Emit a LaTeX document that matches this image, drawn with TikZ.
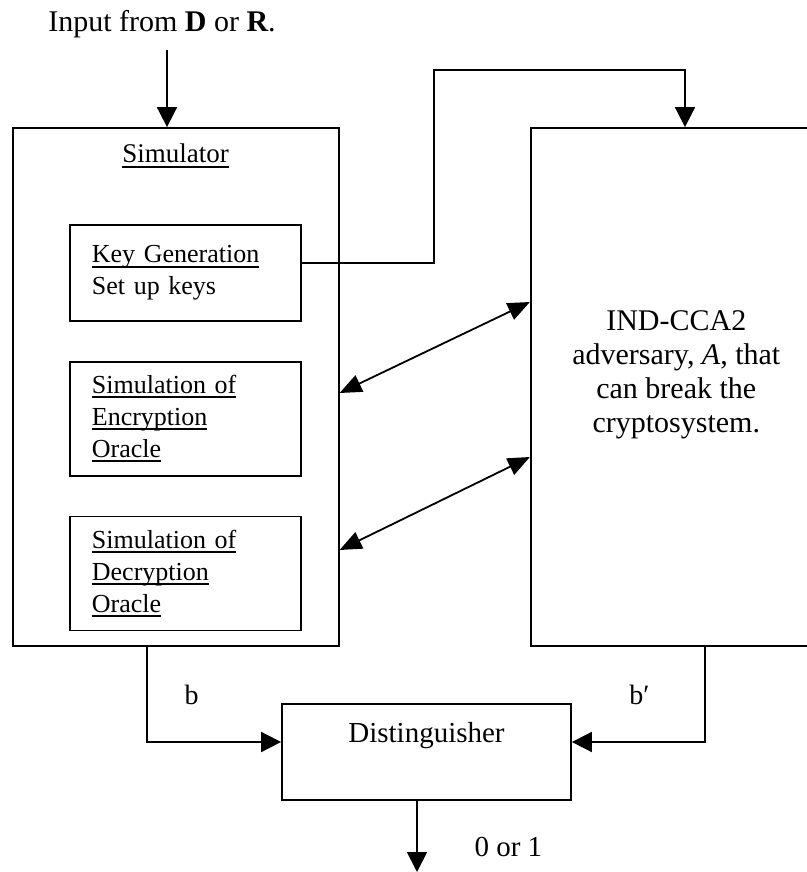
\documentclass[tikz,border=0pt]{standalone}
\usepackage{fontspec}
\setmainfont{Liberation Serif}
\usetikzlibrary{arrows.meta, positioning}

\newcommand{\utext}[1]{\leavevmode\setbox0=\hbox{#1}\rlap{\rule[-2.4pt]{\wd0}{0.9pt}}\box0}

\begin{document}
\begin{tikzpicture}[
    x=0.5pt, y=-0.5pt,
    node distance=19.5pt and 20pt,
    box/.style={
        rectangle, draw=black, line width=0.9pt, inner sep=0pt
    },
    sub/.style={
        rectangle, draw=black, line width=0.9pt,
        minimum width=115.5pt, text width=93.5pt, inner xsep=11pt,
        align=left, font=\fontsize{13}{16}\selectfont
    },
    arr/.style={-{Triangle[length=10pt, width=10pt]}, line width=0.9pt},
    biarr/.style={{Triangle[length=11pt, width=9pt]}-{Triangle[length=11pt, width=9pt]}, line width=0.9pt}
]
\useasboundingbox (0,0) rectangle (807,872);

\node[anchor=base, font=\fontsize{15}{18}\selectfont] (inp) at (162,32)
    {Input from \textbf{D} or \textbf{R}.};

\node[box, minimum width=163pt, minimum height=259pt,
      label={[anchor=north, yshift=-5pt, font=\fontsize{13.5}{16}\selectfont]north:\utext{Simulator}}]
    (sim) at (175.7,387) {};

\node[sub, minimum height=48pt, anchor=north] (keygen) at (185.4,224)
    {\utext{Key Generation}\\Set up keys};

\node[sub, minimum height=57pt, below=of keygen] (encsim)
    {\utext{Simulation of}\\\utext{Encryption}\\\utext{Oracle}};

\node[sub, minimum height=57pt, below=of encsim] (decsim)
    {\utext{Simulation of}\\\utext{Decryption}\\\utext{Oracle}};

\node[box, minimum width=145.5pt, minimum height=259pt,
      label={[align=center, yshift=6pt, font=\fontsize{15}{17}\selectfont]center:IND-CCA2\\adversary, \textit{A}, that\\can break the\\cryptosystem.}]
    (adv) at (676.3,387) {};

\node[box, minimum width=144.5pt, text height=13pt, text depth=23pt, inner ysep=6pt,
      font=\fontsize{14.5}{17}\selectfont] (dist) at (426.5,752) {Distinguisher};

\coordinate (inArr) at (167,50);
\coordinate (kgA) at (434,70);
\coordinate (kgB) at (685,70);
\coordinate (outEnd) at (417,872);

\draw[arr] (inArr) -- (inArr |- sim.north);
\draw[arr] ([yshift=5pt]keygen.east) -| (kgA) -- (kgB) -- (kgB |- adv.north);

\draw[biarr] (sim.east |- 0,393) -- (adv.west |- 0,302);
\draw[biarr] (sim.east |- 0,550) -- (adv.west |- 0,457);

\draw[arr] (sim.south -| 147,0) |- ([yshift=5pt]dist.west)
    node[pos=0.25, right=15pt, font=\fontsize{14}{16}\selectfont] {b};
\draw[arr] (adv.south -| 705,0) |- ([yshift=5pt]dist.east)
    node[pos=0.25, left=24pt, font=\fontsize{14}{16}\selectfont] {b′};
\draw[arr] (dist.south -| outEnd) -- (outEnd)
    node[pos=0.65, right=25pt, font=\fontsize{14.5}{17}\selectfont] {0 or 1};

\end{tikzpicture}
\end{document}
